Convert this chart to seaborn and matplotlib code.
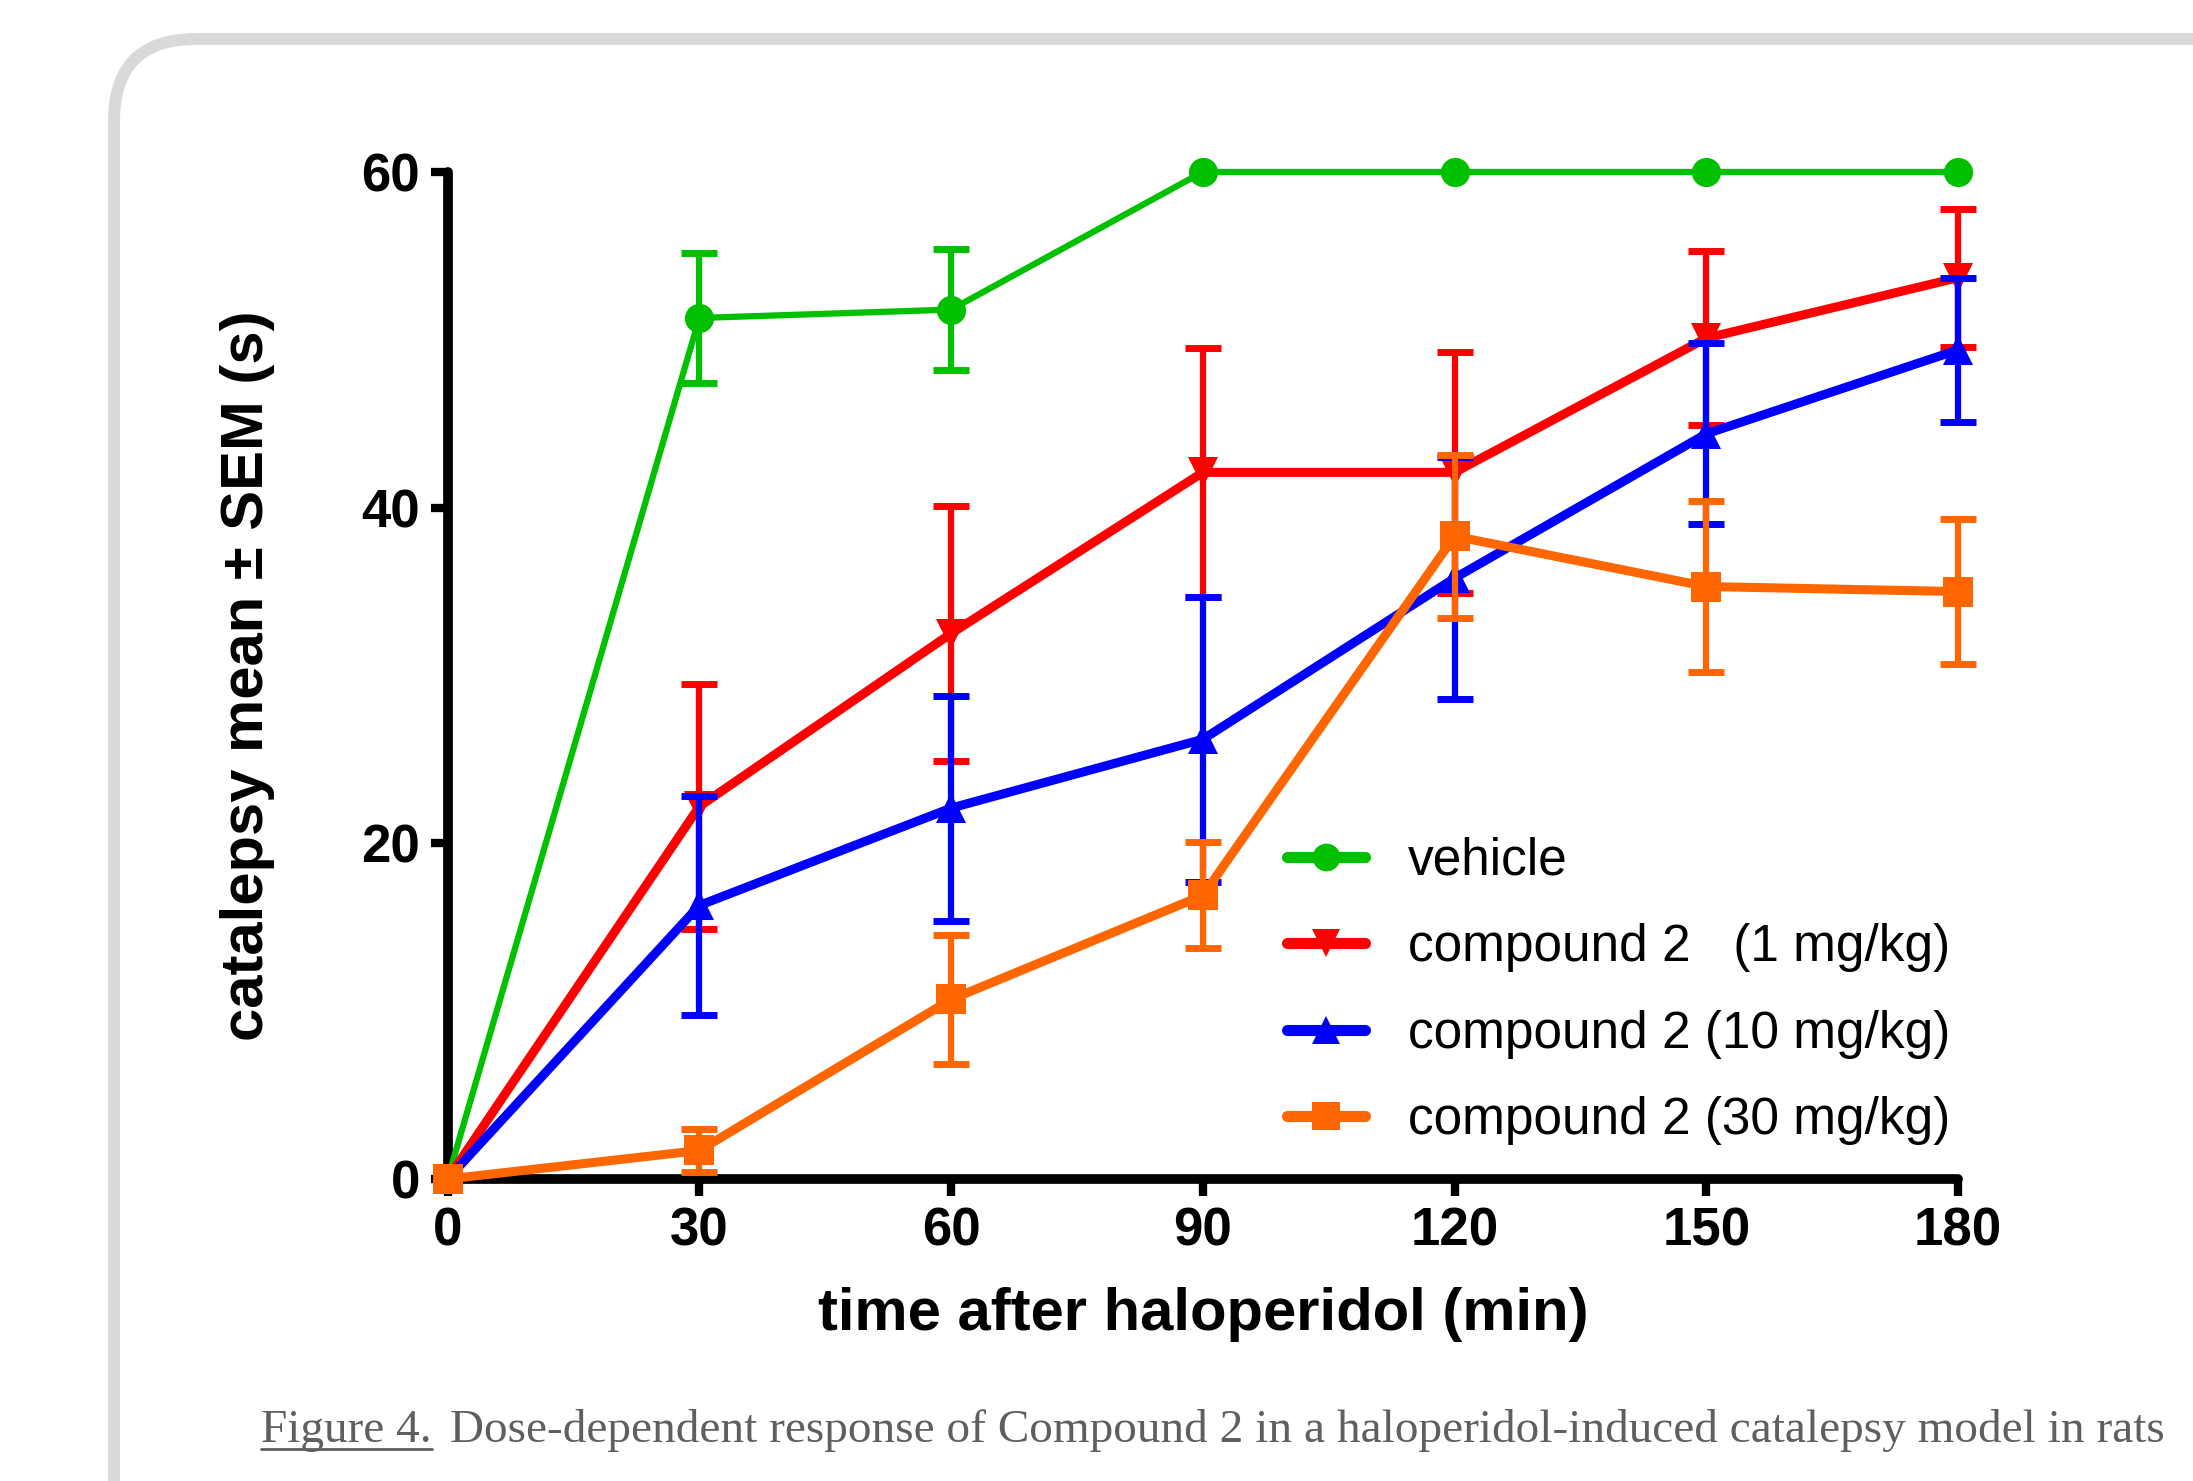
import matplotlib
matplotlib.use("Agg")
import matplotlib.pyplot as plt
import seaborn as sns
import pandas as pd
import numpy as np
from matplotlib.lines import Line2D
from matplotlib.patches import FancyBboxPatch

# data (catalepsy time, mean and SEM)
time_min = [0, 30, 60, 90, 120, 150, 180]

vehicle_mean = [0, 51.3, 51.8, 60, 60, 60, 60]
vehicle_sem = [0, 3.85, 3.6, 0, 0, 0, 0]

dose1_mean = [0, 22.2, 32.5, 42.1, 42.1, 50.1, 53.7]
dose1_sem = [0, 7.3, 7.6, 7.4, 7.2, 5.2, 4.1]

dose10_mean = [0, 16.3, 22.1, 26.2, 35.8, 44.4, 49.4]
dose10_sem = [0, 6.5, 6.7, 8.5, 7.2, 5.4, 4.3]

dose30_mean = [0, 1.7, 10.7, 16.9, 38.3, 35.3, 35.0]
dose30_sem = [0, 1.3, 3.85, 3.15, 4.85, 5.1, 4.3]

labels = ["vehicle", "compound 2   (1 mg/kg)", "compound 2 (10 mg/kg)", "compound 2 (30 mg/kg)"]
colors = ["#00C000", "#FF0000", "#0000FF", "#FF6600"]
markers = ["o", "v", "^", "s"]
msizes = [21, 22, 22, 22]
lwidths = [4.5, 6.5, 6.5, 6.5]

caption_tag = "Figure 4."
caption_text = "Dose-dependent response of Compound 2 in a haloperidol-induced catalepsy model in rats"

# long table for seaborn
rows = []
for lab, m, s in zip(labels, [vehicle_mean, dose1_mean, dose10_mean, dose30_mean],
                     [vehicle_sem, dose1_sem, dose10_sem, dose30_sem]):
    for t, mv, sv in zip(time_min, m, s):
        rows.append({"time": t, "mean": mv, "sem": sv, "group": lab})
df = pd.DataFrame(rows)

# style
sns.set_style("ticks")
plt.rcParams["font.family"] = ["Liberation Sans", "DejaVu Sans"]
plt.rcParams["text.color"] = "black"
plt.rcParams["axes.labelcolor"] = "black"
plt.rcParams["xtick.color"] = "black"
plt.rcParams["ytick.color"] = "black"
plt.rcParams["axes.edgecolor"] = "black"

W, H, DPI = 2193, 1481, 100
fig = plt.figure(figsize=(W / DPI, H / DPI), dpi=DPI)
fig.patch.set_facecolor("white")

# grey rounded frame behind the chart
frame = FancyBboxPatch((1.14, -3.0), 25.0, 14.42 + 3.0, boxstyle="round,pad=0,rounding_size=0.82",
                       transform=fig.dpi_scale_trans, facecolor="none", edgecolor="#D9D9D9",
                       linewidth=8.6, zorder=0)
fig.patches.append(frame)

ax = fig.add_axes([0.2041, 0.2039, 0.6888, 0.6800])
ax.set_facecolor("none")

for i, lab in enumerate(labels):
    sub = df[df["group"] == lab]
    eb = sub[sub["sem"] > 0]
    ax.errorbar(eb["time"], eb["mean"], yerr=eb["sem"], fmt="none", ecolor=colors[i],
                elinewidth=4.5, capsize=13, capthick=5, clip_on=False, zorder=3 + i)
    sns.lineplot(data=sub, x="time", y="mean", ax=ax, color=colors[i], marker=markers[i],
                 markersize=msizes[i], markeredgewidth=0, linewidth=lwidths[i],
                 clip_on=False, zorder=3 + i, legend=False)

ax.set_xlim(0, 180)
ax.set_ylim(0, 60)
ax.set_xticks(time_min)
ax.set_yticks([0, 20, 40, 60])
sns.despine(ax=ax)
for sp in ["left", "bottom"]:
    ax.spines[sp].set_linewidth(7)
    ax.spines[sp].set_color("black")
    ax.spines[sp].set_capstyle("round")
ax.tick_params(axis="both", length=12, width=6, labelsize=38, pad=8, direction="out",
               colors="black")
for lbl in ax.get_xticklabels() + ax.get_yticklabels():
    lbl.set_fontweight("bold")

ax.set_xlabel("time after haloperidol (min)", fontsize=43, fontweight="bold", labelpad=22)
ax.set_ylabel("catalepsy mean ± SEM (s)", fontsize=43, fontweight="bold", labelpad=62)

handles = [Line2D([0], [0], color=c, lw=8, marker=mk, markersize=20, markeredgewidth=0)
           for c, mk in zip(colors, markers)]
ax.legend(handles, labels, loc="upper left", bbox_to_anchor=(0.556, 0.34), frameon=False,
          fontsize=37, handlelength=1.5, handletextpad=0.85, labelspacing=0.73,
          borderpad=0, borderaxespad=0)

# caption with underlined figure tag
cap_color = "#5F5F5F"
t1 = fig.text(261 / W, 1 - 1442 / H, caption_tag, fontsize=34, family="Liberation Serif",
              color=cap_color, va="baseline", ha="left")
t2 = fig.text(450 / W, 1 - 1442 / H, caption_text, fontsize=34, family="Liberation Serif",
              color=cap_color, va="baseline", ha="left")
fig.canvas.draw()
bb = t1.get_window_extent()
uy = (1 - 1449 / H)
fig.lines.append(Line2D([bb.x0 / W, bb.x1 / W], [uy, uy], transform=fig.transFigure,
                        color=cap_color, lw=2))

fig.savefig("out.png", dpi=DPI)
